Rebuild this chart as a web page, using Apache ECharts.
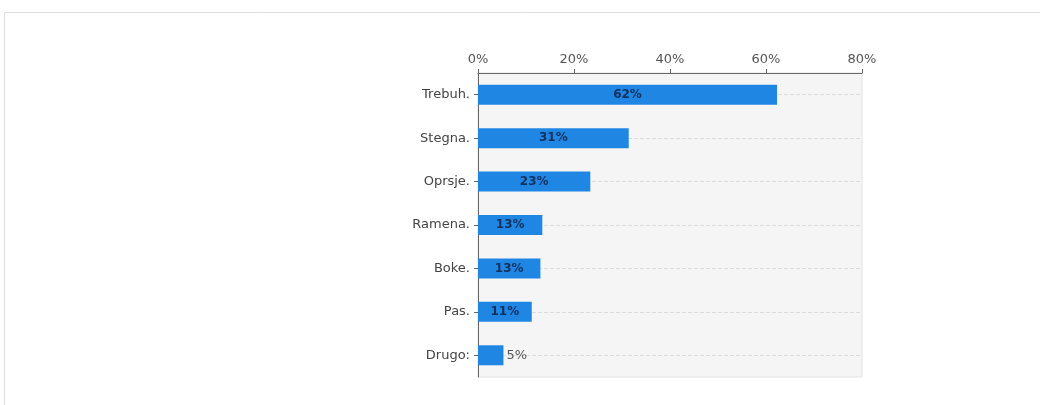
<!DOCTYPE html>
<html>
<head>
<meta charset="utf-8">
<script src="https://cdn.jsdelivr.net/npm/echarts@6/dist/echarts.min.js"></script>
<style>
  html, body { margin: 0; padding: 0; background: #fff; }
  #container { width: 1040px; height: 405px; }
</style>
</head>
<body>
<div id="container"></div>
<script>
var categories = ['Trebuh.', 'Stegna.', 'Oprsje.', 'Ramena.', 'Boke.', 'Pas.', 'Drugo:'];
var values = [62.3, 31.4, 23.4, 13.4, 13.0, 11.2, 5.3];
var xTicks = [0, 20, 40, 60, 80];

var dom = document.getElementById('container');
var myChart = echarts.init(dom);

// labels inside bar except the small last one
var barData = values.map(function (v, i) {
    var inside = v >= 10;
    return {
        value: v,
        label: {
            position: inside ? 'inside' : 'right',
            color: inside ? '#10305e' : '#555',
            fontWeight: inside ? 'bold' : 'normal',
            fontSize: inside ? 12 : 13,
            distance: 3
        }
    };
});

var option = {
    animation: false,
    graphic: [{
        type: 'rect',
        shape: { x: 4.5, y: 12.5, width: 1100, height: 500 },
        style: { fill: 'none', stroke: '#dedede', lineWidth: 1 },
        silent: true
    }],
    grid: {
        left: 478,
        width: 384,
        top: 73,
        height: 304,
        show: true,
        backgroundColor: '#f5f5f5',
        borderColor: '#e2e2e2',
        borderWidth: 1
    },
    xAxis: {
        type: 'value',
        position: 'top',
        min: xTicks[0],
        max: xTicks[xTicks.length - 1],
        interval: 20,
        axisLine: { show: true, lineStyle: { color: '#666', width: 1 } },
        axisTick: { show: true, length: 4, lineStyle: { color: '#666' } },
        axisLabel: {
            formatter: '{value}%',
            color: '#555',
            fontSize: 13,
            fontFamily: 'DejaVu Sans',
            margin: 7
        },
        splitLine: { show: false }
    },
    yAxis: {
        type: 'category',
        data: categories,
        inverse: true,
        axisLine: { show: true, lineStyle: { color: '#666', width: 1 } },
        axisTick: { show: true, alignWithLabel: true, length: 4, lineStyle: { color: '#666' } },
        axisLabel: {
            color: '#444',
            fontSize: 13,
            fontFamily: 'DejaVu Sans',
            margin: 8
        },
        splitLine: { show: false }
    },
    series: [{
        type: 'bar',
        data: barData,
        barWidth: 20,
        itemStyle: { color: '#1f86e4' },
        label: {
            show: true,
            fontFamily: 'DejaVu Sans',
            formatter: function (p) { return Math.round(p.value) + '%'; }
        },
        markLine: {
            silent: true,
            z: 1,
            symbol: 'none',
            label: { show: false },
            lineStyle: { color: '#dcdcdc', type: 'dashed', width: 1 },
            data: categories.map(function (c) { return { yAxis: c }; })
        }
    }]
};

myChart.setOption(option);
</script>
</body>
</html>
